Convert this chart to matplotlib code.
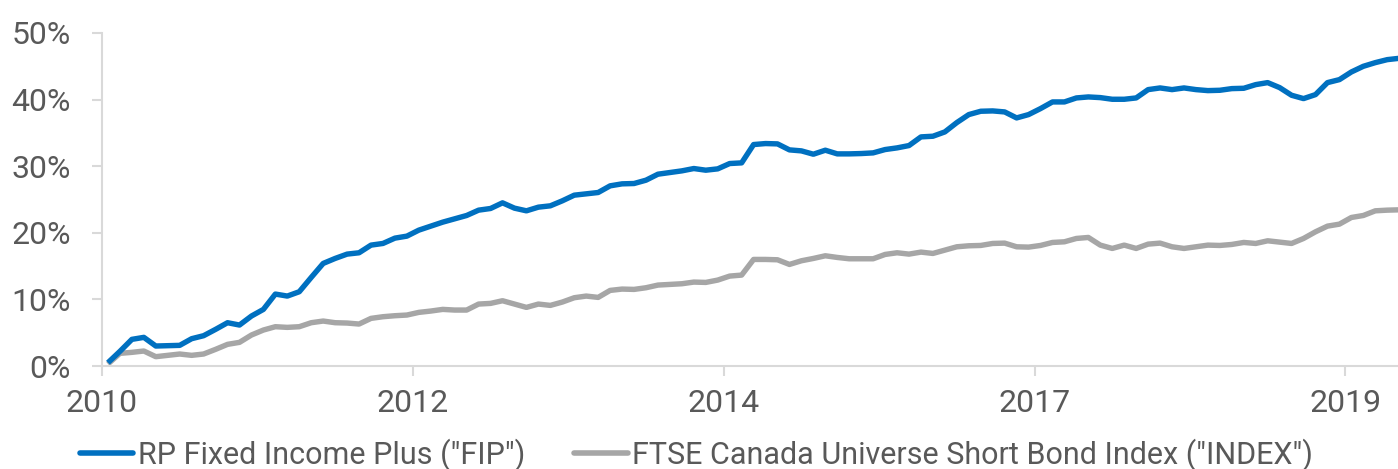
import matplotlib
matplotlib.use("Agg")
import matplotlib.pyplot as plt
from matplotlib import font_manager as fm
import numpy as np

# ---- data (cumulative return, %) ----
fip = [0.5, 2.2, 4.0, 4.3, 3.0, 3.05, 3.1, 4.1, 4.55, 5.5,
       6.5, 6.15, 7.5, 8.5, 10.8, 10.5, 11.15, 13.3, 15.4, 16.15,
       16.8, 17.0, 18.15, 18.4, 19.2, 19.5, 20.4, 21.0, 21.6, 22.1,
       22.6, 23.4, 23.65, 24.5, 23.7, 23.3, 23.85, 24.05, 24.8, 25.65,
       25.85, 26.05, 27.05, 27.35, 27.4, 27.9, 28.8, 29.05, 29.3, 29.65,
       29.4, 29.6, 30.4, 30.5, 33.25, 33.4, 33.35, 32.45, 32.3, 31.8,
       32.4, 31.85, 31.85, 31.9, 32.0, 32.5, 32.75, 33.1, 34.4, 34.5,
       35.15, 36.55, 37.75, 38.25, 38.3, 38.15, 37.25, 37.75, 38.65, 39.65,
       39.65, 40.25, 40.4, 40.3, 40.05, 40.05, 40.25, 41.5, 41.75, 41.5,
       41.75, 41.5, 41.35, 41.4, 41.65, 41.7, 42.25, 42.55, 41.8, 40.65,
       40.15, 40.75, 42.55, 43.0, 44.15, 45.0, 45.55, 46.0, 46.2]
index = [0.3, 1.9, 2.05, 2.25, 1.4, 1.6, 1.8, 1.6, 1.8, 2.5,
         3.25, 3.55, 4.65, 5.4, 5.9, 5.8, 5.9, 6.5, 6.75, 6.5,
         6.45, 6.3, 7.15, 7.4, 7.55, 7.65, 8.05, 8.25, 8.5, 8.4,
         8.4, 9.3, 9.4, 9.8, 9.3, 8.8, 9.3, 9.1, 9.6, 10.25,
         10.5, 10.3, 11.35, 11.55, 11.5, 11.75, 12.15, 12.25, 12.35, 12.6,
         12.55, 12.9, 13.5, 13.65, 16.0, 16.0, 15.95, 15.25, 15.8, 16.15,
         16.55, 16.3, 16.1, 16.1, 16.1, 16.75, 17.0, 16.8, 17.1, 16.9,
         17.4, 17.9, 18.05, 18.1, 18.4, 18.45, 17.9, 17.85, 18.1, 18.55,
         18.65, 19.15, 19.3, 18.15, 17.65, 18.15, 17.65, 18.3, 18.45, 17.9,
         17.65, 17.9, 18.15, 18.1, 18.25, 18.55, 18.4, 18.8, 18.6, 18.4,
         19.15, 20.15, 21.0, 21.3, 22.3, 22.6, 23.3, 23.4, 23.45]
tick_months = [0, 26, 52, 78, 104]
tick_labels = ["2010", "2012", "2014", "2017", "2019"]
y_ticks = [0, 10, 20, 30, 40, 50]
series_names = ['RP Fixed Income Plus ("FIP")',
                'FTSE Canada Universe Short Bond Index ("INDEX")']

# ---- font ----
family = "DejaVu Sans"
for cand in ["Liberation Sans Narrow", "Roboto", "Liberation Sans"]:
    try:
        fm.findfont(cand, fallback_to_default=False)
        family = cand
        break
    except Exception:
        pass
plt.rcParams["font.family"] = [family, "DejaVu Sans"]

TXT = "#595959"
AX = "#D9D9D9"
BLUE = "#0070C0"
GRAY = "#A6A6A6"

W, H = 1398, 469
fig = plt.figure(figsize=(W / 100, H / 100), dpi=100)
ax = fig.add_axes([102 / W, (H - 366) / H, (W - 102) / W, (366 - 33) / H])

x = np.arange(len(fip)) + 0.5
l1, = ax.plot(x, fip, color=BLUE, lw=3.9, solid_joinstyle="round",
              solid_capstyle="butt", label=series_names[0], zorder=2)
l2, = ax.plot(x, index, color=GRAY, lw=3.9, solid_joinstyle="round",
              solid_capstyle="butt", label=series_names[1], zorder=1)

ax.set_xlim(0, 108.4)
ax.set_ylim(0, 50)
ax.set_xticks(tick_months)
ax.set_xticklabels(tick_labels)
ax.set_yticks(y_ticks)
ax.set_yticklabels([f"{v}%" for v in y_ticks])

for s in ["top", "right"]:
    ax.spines[s].set_visible(False)
for s in ["left", "bottom"]:
    ax.spines[s].set_color(AX)
    ax.spines[s].set_linewidth(1.5)

ax.tick_params(axis="x", direction="out", length=7.5, width=1.5, color=AX,
               labelsize=23, labelcolor=TXT, pad=9)
ax.tick_params(axis="y", direction="out", length=7.5, width=1.5, color=AX,
               labelsize=23, labelcolor=TXT, pad=15)

leg = fig.legend(handles=[l1, l2], loc="center left",
                 bbox_to_anchor=(80 / W, 1 - 455 / H), ncol=2, frameon=False,
                 fontsize=22, handlelength=1.75, handletextpad=0.15,
                 columnspacing=1.6, borderpad=0, borderaxespad=0,
                 labelcolor=TXT)
for h in leg.legend_handles:
    h.set_solid_capstyle("round")
    h.set_linewidth(4)

fig.savefig("out.png", dpi=100)
